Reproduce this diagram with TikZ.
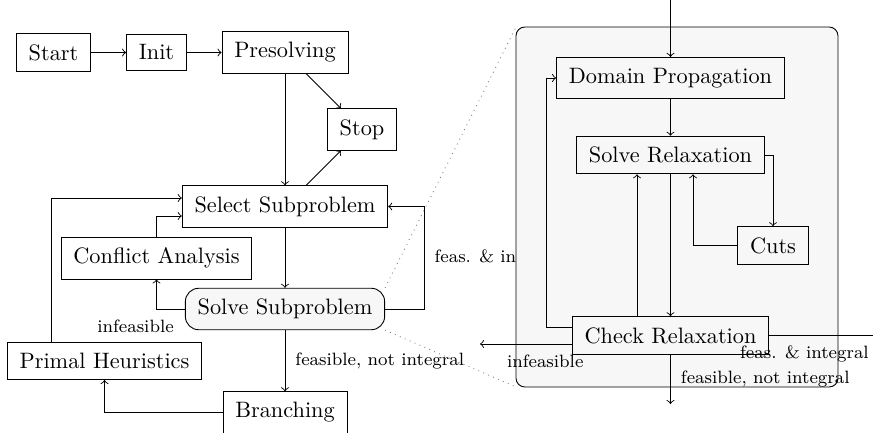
\documentclass[tikz,border=0pt]{standalone}
\usetikzlibrary{calc}
\definecolor{panelgray}{gray}{0.97}
\begin{document}
\begin{tikzpicture}[x=0.44845pt, y=-0.44845pt,
  box/.style={draw, inner xsep=5.5pt, inner ysep=4.8pt, font=\normalsize},
  subbox/.style={box, rounded corners=6pt, fill=panelgray},
  lbl/.style={font=\footnotesize, inner sep=4.5pt},
  panel/.style={draw, fill=panelgray, rounded corners=4pt},
  zoomline/.style={dotted, gray}]
\useasboundingbox (0,0) rectangle (873,432);
\clip (0,0) rectangle (873,432);

% ---------- main solving loop ----------
\node[box] (start)    at (53.5,52.5)  {Start};
\node[box] (init)     at (156.5,52.5) {Init};
\node[box] (presolve) at (285,52.5)   {Presolving};
\node[box] (stop)     at (362,129.5)  {Stop};
\node[box] (select)   at (285,206.5)  {Select Subproblem};
\node[box] (conflict) at (156.5,258)  {Conflict Analysis};
\node[subbox] (solve) at (285,309)    {Solve Subproblem};
\node[box] (primal)   at (104.5,361)  {Primal Heuristics};
\node[box] (branch)   at (285,412.5)  {Branching};

\draw[->] (start) -- (init);
\draw[->] (init) -- (presolve);
\draw[->] (presolve) -- (select);
\draw[->] (presolve) -- (stop);
\draw[->] (select) -- (stop);
\draw[->] (select) -- (solve);
\draw[->] (solve.west) -| (conflict.south);
\node[lbl] (inflabel) at (135.5,326) {infeasible};
\draw[->] (conflict.north) |- ($(select.west)+(0,9.5)$);
\draw[->] ($(primal.north)+(-52.8,0)$) |- ($(select.west)+(0,-8.5)$);
\draw[->] (branch.west) -| (primal.south);
\draw[->] (solve) -- node[lbl, right] {feasible, not integral} (branch);
\draw[->] (solve.east) -- ++(39,0) coordinate (fbend)
  -- (fbend |- select.east) node[lbl, midway, right] {feas. \& integral}
  -- (select.east);

% ---------- detail of the subproblem solving ----------
\draw[panel] (516,27) coordinate (pnw) rectangle (838,387) coordinate (pse);
\draw[zoomline] (solve.north east) -- (pnw);
\draw[zoomline] (solve.south east) -- (pnw |- pse);

\node[box] (domain) at (670.5,78)    {Domain Propagation};
\node[box] (relax)  at (670.5,155)   {Solve Relaxation};
\node[box] (cuts)   at (773,245.5)   {Cuts};
\node[box] (check)  at (670.5,335.5) {Check Relaxation};

\coordinate (entry)     at (670.5,0);
\coordinate (infout)    at (480,344);
\coordinate (exitdown)  at (670.5,404);
\coordinate (exitright) at (873,335.5);

\draw[->] (entry) -- (domain);
\draw[->] (domain) -- (relax);
\draw[->] (relax) -- (check);
\draw[->] ($(check.north)+(-33.5,0)$) -- ($(relax.south)+(-33.5,0)$);
\draw[->] (cuts.west) -| ($(relax.south)+(22.5,0)$);
\draw[->] (relax.east) -| (cuts.north);
\draw[->] ($(check.west)+(0,-8.5)$) -| ($(domain.west)+(-10,0)$) -- (domain.west);
\draw[->] ($(check.west)+(0,8.5)$) -- node[lbl, below, pos=0.29] {infeasible} (infout);
\draw[->] (check.south) -- node[lbl, right] {feasible, not integral} (exitdown);
\draw (check.east) -- node[lbl, below, pos=0.34] {feas. \& integral} (exitright);
\end{tikzpicture}
\end{document}
